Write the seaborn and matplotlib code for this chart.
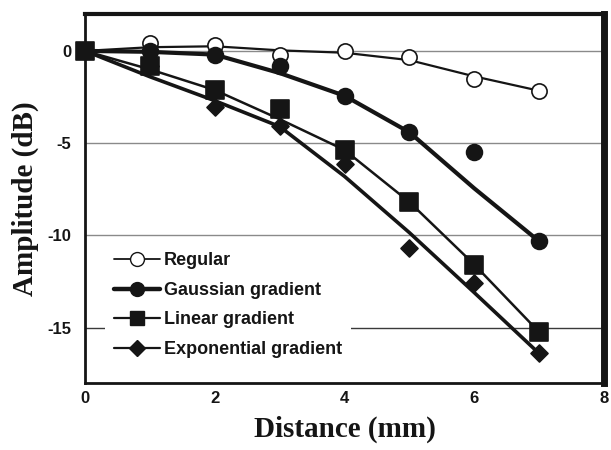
import numpy as np
import pandas as pd
import matplotlib
matplotlib.use("Agg")
import matplotlib.pyplot as plt
from matplotlib.lines import Line2D
import seaborn as sns

# Measured amplitude versus distance for each transducer type
distance = [0, 1, 2, 3, 4, 5, 6, 7]
regular = [0, 0.43, 0.31, -0.2, -0.02, -0.32, -1.5, -2.16]
gaussian = [0, 0.0, -0.2, -0.83, -2.43, -4.41, -5.46, -10.32]
linear = [0, -0.81, -2.12, -3.15, -5.37, -8.19, -11.58, -15.24]
exponential = [0, -0.8, -3.06, -4.07, -6.11, -10.7, -12.57, -16.4]

# Fitted trend curves evaluated at the same distances
regular_fit = [0, 0.2, 0.25, 0.03, -0.1, -0.5, -1.38, -2.16]
gaussian_fit = [0, -0.05, -0.2, -1.2, -2.43, -4.41, -7.45, -10.32]
linear_fit = [0, -1.0, -2.12, -3.7, -5.37, -8.19, -11.58, -15.24]
exponential_fit = [0, -1.4, -2.7, -4.1, -6.8, -9.85, -13.1, -16.4]

series_names = ["Regular", "Gaussian gradient", "Linear gradient", "Exponential gradient"]
x_ticks = [0, 2, 4, 6, 8]
y_ticks = [0, -5, -10, -15]

measured = pd.DataFrame({
    "Distance": distance * 4,
    "Amplitude": regular + gaussian + linear + exponential,
    "Series": sum([[n] * len(distance) for n in series_names], []),
})
fitted = pd.DataFrame({
    "Distance": distance * 4,
    "Amplitude": regular_fit + gaussian_fit + linear_fit + exponential_fit,
    "Series": sum([[n] * len(distance) for n in series_names], []),
})

sns.set_theme(style="white")
plt.rcParams["font.family"] = ["Liberation Sans", "DejaVu Sans"]

ink = "#151515"
line_widths = {"Regular": 1.6, "Gaussian gradient": 3.0,
               "Linear gradient": 1.8, "Exponential gradient": 2.6}
markers = {"Regular": "o", "Gaussian gradient": "o",
           "Linear gradient": "s", "Exponential gradient": "D"}
faces = {"Regular": "white", "Gaussian gradient": ink,
         "Linear gradient": ink, "Exponential gradient": ink}
sizes = {"Regular": 120, "Gaussian gradient": 130,
         "Linear gradient": 150, "Exponential gradient": 75}

fig = plt.figure(figsize=(6.11, 4.5), dpi=100)
ax = fig.add_axes([85 / 611, 1 - 383 / 450, 519 / 611, 369 / 450])

for name in series_names:
    sub = fitted[fitted["Series"] == name]
    sns.lineplot(data=sub, x="Distance", y="Amplitude", ax=ax, color=ink,
                 lw=line_widths[name], legend=False, sort=False, zorder=3)

for name in series_names:
    sub = measured[measured["Series"] == name]
    sns.scatterplot(data=sub, x="Distance", y="Amplitude", ax=ax,
                    marker=markers[name], s=sizes[name], color=faces[name],
                    edgecolor=ink, linewidth=1.2, legend=False, zorder=5,
                    clip_on=False)

ax.set_xlim(0, 8)
ax.set_ylim(-18, 2)
ax.set_xticks(x_ticks)
ax.set_yticks(y_ticks)
ax.set_xticklabels([str(t) for t in x_ticks], fontsize=12, fontweight="bold")
ax.set_yticklabels([str(t) for t in y_ticks], fontsize=12, fontweight="bold")
ax.tick_params(axis="both", direction="in", length=5, width=2, color=ink,
               labelcolor=ink)
ax.tick_params(axis="x", pad=6)
ax.tick_params(axis="y", pad=10)

ax.yaxis.grid(True, color="#8a8a8a", lw=1.0)
ax.xaxis.grid(False)
ax.set_axisbelow(True)
gl = ax.get_ygridlines()
gl[-1].set_color("#3a3a3a")

for side, w in {"left": 2.0, "bottom": 2.0, "top": 3.0, "right": 5.0}.items():
    ax.spines[side].set_visible(True)
    ax.spines[side].set_color(ink)
    ax.spines[side].set_linewidth(w)

label_font = {"family": ["Liberation Serif", "DejaVu Serif"], "weight": "bold", "size": 21}
ax.set_xlabel("Distance (mm)", fontdict=label_font, labelpad=7, color=ink)
ax.set_ylabel("Amplitude (dB)", fontdict=label_font, labelpad=6, color=ink)

handles = [
    Line2D([], [], color=ink, lw=1.3, marker="o", ms=10, mfc="white", mec=ink, mew=1.0),
    Line2D([], [], color=ink, lw=3.2, marker="o", ms=10, mfc=ink, mec=ink),
    Line2D([], [], color=ink, lw=1.6, marker="s", ms=10, mfc=ink, mec=ink),
    Line2D([], [], color=ink, lw=1.6, marker="D", ms=8, mfc=ink, mec=ink),
]
leg = ax.legend(handles, series_names, loc="lower left",
                bbox_to_anchor=(0.0385, 0.043), frameon=True, fancybox=False,
                framealpha=1, facecolor="white", edgecolor="none",
                handlelength=2.55, handletextpad=0.22, labelspacing=0.7,
                borderpad=0.5, borderaxespad=0,
                prop={"weight": "bold", "size": 13})
for t in leg.get_texts():
    t.set_color(ink)
leg.set_zorder(4)

fig.savefig("out.png", dpi=100)
